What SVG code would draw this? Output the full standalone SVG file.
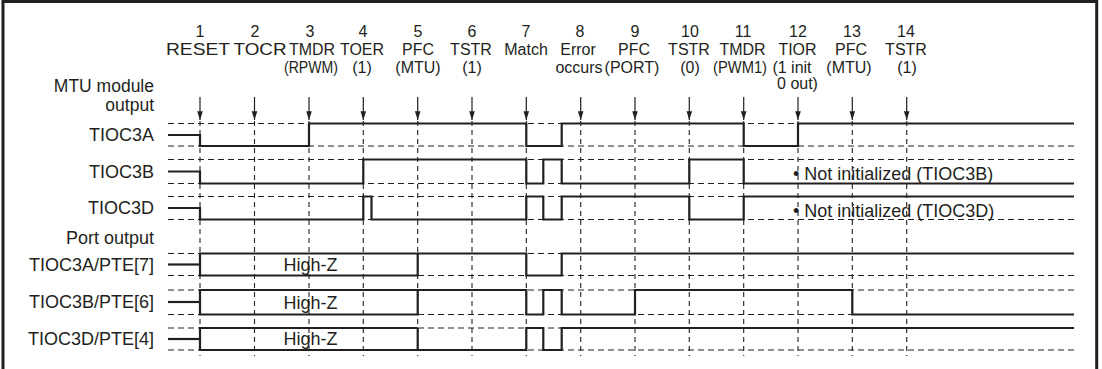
<svg xmlns="http://www.w3.org/2000/svg" width="1102" height="369" viewBox="0 0 1102 369">
<defs>
<style>
text{font-family:"Liberation Sans",Arial,Helvetica,sans-serif;fill:#231f20}
.hd{font-size:16px;text-anchor:middle}
.lb{font-size:18px;text-anchor:end}
.nt{font-size:18px}
.hz{font-size:18px;text-anchor:middle}
.sig{fill:none;stroke:#231f20;stroke-width:2.2;stroke-linejoin:miter}
.lvl{stroke:#231f20;stroke-width:1.1;stroke-dasharray:6 4}
.grid{stroke:#231f20;stroke-width:1.1;stroke-dasharray:5 4}
.arr{stroke:#231f20;stroke-width:1.2;marker-end:url(#ah)}
</style>
<marker id="ah" viewBox="0 -4 10 8" markerUnits="userSpaceOnUse" markerWidth="10" markerHeight="7" refX="10" refY="0" orient="auto">
<path d="M0,-3.2 L10,0 L0,3.2 z" fill="#231f20"/>
</marker>
</defs>
<rect x="3" y="1.5" width="1093.7" height="380" fill="#fff" stroke="#231f20" stroke-width="3"/>

<g id="header">
<text class="hd" x="200" y="37">1</text>
<text class="hd" x="255" y="37">2</text>
<text class="hd" x="310" y="37">3</text>
<text class="hd" x="363" y="37">4</text>
<text class="hd" x="418" y="37">5</text>
<text class="hd" x="472" y="37">6</text>
<text class="hd" x="526" y="37">7</text>
<text class="hd" x="580" y="37">8</text>
<text class="hd" x="635" y="37">9</text>
<text class="hd" x="690" y="37">10</text>
<text class="hd" x="743" y="37">11</text>
<text class="hd" x="798" y="37">12</text>
<text class="hd" x="852" y="37">13</text>
<text class="hd" x="906" y="37">14</text>

<text class="hd" x="198" y="55" style="font-size:17px" textLength="64" lengthAdjust="spacingAndGlyphs">RESET</text>
<text class="hd" x="260" y="55" textLength="53" lengthAdjust="spacingAndGlyphs">TOCR</text>
<text class="hd" x="312" y="55">TMDR</text>
<text class="hd" x="362" y="55">TOER</text>
<text class="hd" x="418" y="55">PFC</text>
<text class="hd" x="471" y="55">TSTR</text>
<text class="hd" x="526" y="55">Match</text>
<text class="hd" x="578" y="55">Error</text>
<text class="hd" x="634" y="55">PFC</text>
<text class="hd" x="689" y="55">TSTR</text>
<text class="hd" x="742.5" y="55">TMDR</text>
<text class="hd" x="797.5" y="55">TIOR</text>
<text class="hd" x="851" y="55">PFC</text>
<text class="hd" x="906" y="55">TSTR</text>

<text class="hd" x="311" y="72.5" textLength="54" lengthAdjust="spacingAndGlyphs">(RPWM)</text>
<text class="hd" x="362" y="72.5">(1)</text>
<text class="hd" x="418" y="72.5">(MTU)</text>
<text class="hd" x="472" y="72.5">(1)</text>
<text class="hd" x="579" y="72.5">occurs</text>
<text class="hd" x="632" y="72.5">(PORT)</text>
<text class="hd" x="690" y="72.5">(0)</text>
<text class="hd" x="740" y="72.5" textLength="54" lengthAdjust="spacingAndGlyphs">(PWM1)</text>
<text class="hd" x="792" y="72.5">(1 init</text>
<text class="hd" x="849" y="72.5">(MTU)</text>
<text class="hd" x="907" y="72.5">(1)</text>
<text class="hd" x="797.5" y="88.5">0 out)</text>
</g>

<g id="labels">
<text class="lb" x="154" y="91.5" style="font-size:17.5px">MTU module</text>
<text class="lb" x="154" y="111" style="font-size:17.5px">output</text>
<text class="lb" x="154" y="141">TIOC3A</text>
<text class="lb" x="154" y="177.5">TIOC3B</text>
<text class="lb" x="154" y="214">TIOC3D</text>
<text class="lb" x="154" y="243.5">Port output</text>
<text class="lb" x="154" y="271">TIOC3A/PTE[7]</text>
<text class="lb" x="154" y="308">TIOC3B/PTE[6]</text>
<text class="lb" x="154" y="345">TIOC3D/PTE[4]</text>
</g>

<g id="grid">
<line class="grid" x1="200" y1="121" x2="200" y2="356"/>
<line class="grid" x1="254.5" y1="121" x2="254.5" y2="356"/>
<line class="grid" x1="309" y1="121" x2="309" y2="356"/>
<line class="grid" x1="363.3" y1="121" x2="363.3" y2="356"/>
<line class="grid" x1="417.7" y1="121" x2="417.7" y2="356"/>
<line class="grid" x1="472" y1="121" x2="472" y2="356"/>
<line class="grid" x1="526.3" y1="121" x2="526.3" y2="356"/>
<line class="grid" x1="580.7" y1="121" x2="580.7" y2="356"/>
<line class="grid" x1="635" y1="121" x2="635" y2="356"/>
<line class="grid" x1="689.3" y1="121" x2="689.3" y2="356"/>
<line class="grid" x1="743.7" y1="121" x2="743.7" y2="356"/>
<line class="grid" x1="798" y1="121" x2="798" y2="356"/>
<line class="grid" x1="852.3" y1="121" x2="852.3" y2="356"/>
<line class="grid" x1="906.7" y1="121" x2="906.7" y2="356"/>

<line class="lvl" x1="168" y1="123.5" x2="1074" y2="123.5"/>
<line class="lvl" x1="168" y1="146" x2="1074" y2="146"/>
<line class="lvl" x1="168" y1="159.5" x2="1074" y2="159.5"/>
<line class="lvl" x1="168" y1="183.5" x2="1074" y2="183.5"/>
<line class="lvl" x1="168" y1="196.5" x2="1074" y2="196.5"/>
<line class="lvl" x1="168" y1="219.5" x2="1074" y2="219.5"/>
<line class="lvl" x1="168" y1="253.5" x2="1074" y2="253.5"/>
<line class="lvl" x1="168" y1="275.5" x2="1074" y2="275.5"/>
<line class="lvl" x1="168" y1="290" x2="1074" y2="290"/>
<line class="lvl" x1="168" y1="314.5" x2="1074" y2="314.5"/>
<line class="lvl" x1="168" y1="328" x2="1074" y2="328"/>
<line class="lvl" x1="168" y1="350" x2="1074" y2="350"/>
</g>

<g id="arrows">
<line class="arr" x1="200" y1="97" x2="200" y2="120"/>
<line class="arr" x1="254.5" y1="97" x2="254.5" y2="120"/>
<line class="arr" x1="309" y1="97" x2="309" y2="120"/>
<line class="arr" x1="363.3" y1="97" x2="363.3" y2="120"/>
<line class="arr" x1="417.7" y1="97" x2="417.7" y2="120"/>
<line class="arr" x1="472" y1="97" x2="472" y2="120"/>
<line class="arr" x1="526.3" y1="97" x2="526.3" y2="120"/>
<line class="arr" x1="580.7" y1="97" x2="580.7" y2="120"/>
<line class="arr" x1="635" y1="97" x2="635" y2="120"/>
<line class="arr" x1="689.3" y1="97" x2="689.3" y2="120"/>
<line class="arr" x1="743.7" y1="97" x2="743.7" y2="120"/>
<line class="arr" x1="798" y1="97" x2="798" y2="120"/>
<line class="arr" x1="852.3" y1="97" x2="852.3" y2="120"/>
<line class="arr" x1="906.7" y1="97" x2="906.7" y2="120"/>
</g>

<g id="sig-TIOC3A">
<path class="sig" d="M168,135 H200 V146 H309 V123.5 H526.3 V146 H561.7 V123.5 H743.7 V146 H798 V123.5 H1074"/>
</g>
<g id="sig-TIOC3B">
<path class="sig" d="M168,171.5 H200 V183.5 H363.3 V159.5 H526.3 V183.5 H543.3 V159.5 H561.7 V183.5 H689.3 V159.5 H743.7 V183.5 H1074"/>
<text class="nt" x="793" y="179.5">• Not initialized (TIOC3B)</text>
</g>
<g id="sig-TIOC3D">
<path class="sig" d="M168,208 H200 V219.5 H363.3 V196.5 H371.5 V219.5 H526.3 V196.5 H543.3 V219.5 H561.7 V196.5 H689.3 V219.5 H743.7 V196.5 H1074"/>
<text class="nt" x="793" y="216.5">• Not initialized (TIOC3D)</text>
</g>
<g id="sig-PTE7">
<path class="sig" d="M168,264.5 H200"/>
<path class="sig" d="M417.7,253.5 V275.5 H200 V253.5 H526.3 V275.5 H561.7 V253.5 H1074"/>
<text class="hz" x="310.5" y="270.8">High-Z</text>
</g>
<g id="sig-PTE6">
<path class="sig" d="M168,302 H200"/>
<path class="sig" d="M417.7,290 V314.5 H200 V290 H526.3 V314.5 H543.3 V290 H561.7 V314.5 H635 V290 H852.3 V314.5 H1074"/>
<text class="hz" x="310.5" y="308.5">High-Z</text>
</g>
<g id="sig-PTE4">
<path class="sig" d="M168,339 H200"/>
<path class="sig" d="M417.7,328 V350 M417.7,328 H200 V350 H526.3 V328 H543.3 V350 H561.7 V328 H1074"/>
<text class="hz" x="310.5" y="345.3">High-Z</text>
</g>
</svg>
